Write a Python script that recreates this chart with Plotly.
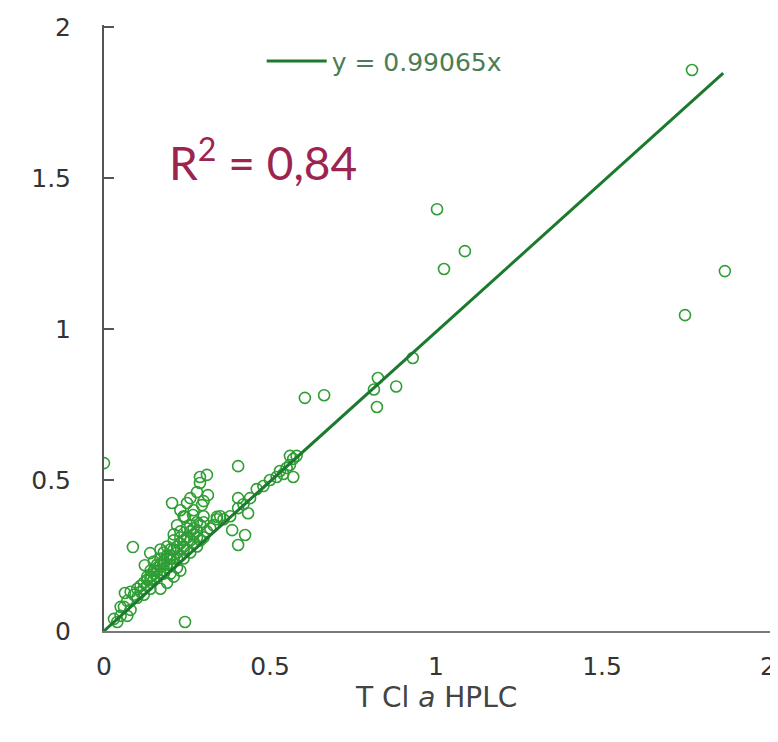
import plotly.graph_objects as go

# data
x_pts = [
    0.03, 0.04, 0.05, 0.05, 0.06, 0.063, 0.07, 0.07, 0.08, 0.08, 0.09, 0.10, 0.10, 0.11, 0.12, 0.12,
    0.123, 0.13, 0.13, 0.139, 0.14, 0.14, 0.15, 0.15, 0.16, 0.16, 0.17, 0.17, 0.17, 0.18, 0.18,
    0.18, 0.19, 0.19, 0.19, 0.20, 0.20, 0.20, 0.21, 0.21, 0.21, 0.22, 0.22, 0.22, 0.23, 0.23,
    0.23, 0.23, 0.24, 0.24, 0.24, 0.25, 0.25, 0.26, 0.26, 0.26, 0.27, 0.27, 0.27, 0.28, 0.28,
    0.28, 0.29, 0.30, 0.30, 0.30, 0.31, 0.32, 0.33, 0.34, 0.35, 0.36,
    0.11, 0.12, 0.13, 0.14, 0.15, 0.16, 0.17, 0.18, 0.19, 0.20, 0.21, 0.22, 0.23, 0.24, 0.25,
    0.26, 0.27, 0.28, 0.29, 0.30, 0.14, 0.16, 0.18, 0.20, 0.22, 0.24, 0.26, 0.28,
    0.15, 0.17, 0.19, 0.21, 0.23, 0.25,
    0.205, 0.25, 0.295, 0.244, 0.268, 0.34, 0.289, 0.31, 0.289, 0.313,
    0.404, 0.404, 0.404, 0.434, 0.386, 0.425, 0.404, 0.38, 0.42, 0.44, 0.46, 0.48, 0.50, 0.52,
    0.53, 0.54, 0.55, 0.56, 0.57, 0.56, 0.58, 0.57,
    0.0, 0.087, 0.244, 0.605, 0.663, 0.813, 0.822, 0.825, 0.88, 0.93,
    1.003, 1.024, 1.087, 1.75, 1.771, 1.87,
]
y_pts = [
    0.04, 0.03, 0.05, 0.08, 0.08, 0.126, 0.10, 0.05, 0.07, 0.13, 0.12, 0.11, 0.14, 0.13, 0.12, 0.16,
    0.218, 0.15, 0.18, 0.258, 0.14, 0.20, 0.17, 0.20, 0.18, 0.22, 0.19, 0.24, 0.14, 0.20, 0.23,
    0.26, 0.21, 0.25, 0.16, 0.19, 0.22, 0.27, 0.24, 0.30, 0.18, 0.21, 0.26, 0.35, 0.25, 0.33,
    0.20, 0.40, 0.24, 0.28, 0.38, 0.27, 0.31, 0.26, 0.35, 0.44, 0.29, 0.32, 0.40, 0.28, 0.36,
    0.46, 0.30, 0.31, 0.38, 0.43, 0.33, 0.34, 0.35, 0.37, 0.38, 0.37,
    0.15, 0.14, 0.17, 0.18, 0.19, 0.21, 0.22, 0.22, 0.24, 0.25, 0.27, 0.28, 0.29, 0.30, 0.31,
    0.33, 0.34, 0.33, 0.35, 0.36, 0.17, 0.20, 0.19, 0.24, 0.24, 0.27, 0.30, 0.31,
    0.23, 0.27, 0.28, 0.32, 0.31, 0.34,
    0.424, 0.424, 0.417, 0.378, 0.384, 0.378, 0.51, 0.517, 0.49, 0.45,
    0.546, 0.44, 0.407, 0.39, 0.334, 0.318, 0.285, 0.38, 0.42, 0.44, 0.47, 0.48, 0.50, 0.51,
    0.53, 0.52, 0.54, 0.55, 0.57, 0.58, 0.58, 0.51,
    0.556, 0.278, 0.03, 0.772, 0.781, 0.80, 0.742, 0.838, 0.81, 0.904,
    1.397, 1.199, 1.258, 1.046, 1.858, 1.192,
]

slope = 0.99065
fit_x = [0, 1.865]
fit_y = [slope * v for v in fit_x]

tick_vals = [0, 0.5, 1, 1.5, 2]
tick_text = ["0", "0.5", "1", "1.5", "2"]

fig = go.Figure()

fig.add_trace(go.Scatter(
    x=x_pts, y=y_pts, mode="markers", showlegend=False,
    marker=dict(symbol="circle-open", size=11, color="#2f9e34", line=dict(width=1.6, color="#2f9e34")),
))

fig.add_trace(go.Scatter(
    x=fit_x, y=fit_y, mode="lines", name="y = 0.99065x",
    line=dict(color="#1c7a2e", width=3),
))

fig.add_annotation(
    x=0.19, y=1.56, xref="x", yref="y", xanchor="left", yanchor="middle",
    text="R<sup>2</sup> = 0,84", showarrow=False,
    font=dict(family="Lato", size=46, color="#9c2550"),
)

# x axis title, placed as an annotation so it sits closer to the tick labels
fig.add_annotation(
    x=1.0, y=-0.11, xref="x", yref="paper", xanchor="center", yanchor="middle",
    text="T Cl <i>a</i> HPLC", showarrow=False,
    font=dict(size=28, color="#444"),
)

# the page has an 8px body margin, so the figure is a bit smaller than the window
fig.update_layout(
    width=770, height=734,
    margin=dict(l=96, r=3, t=17, b=111),
    plot_bgcolor="white", paper_bgcolor="white",
    font=dict(family="DejaVu Sans", size=25, color="#333"),
    legend=dict(
        x=0.235, y=0.94, xanchor="left", yanchor="middle",
        font=dict(size=25, color="#4a7d52"), bgcolor="rgba(0,0,0,0)",
        itemwidth=60,
    ),
    xaxis=dict(
        range=[0, 2.021], tickvals=tick_vals, ticktext=tick_text,
        showline=True, linecolor="#7a7a7a", linewidth=2, automargin=False,
        showgrid=False, zeroline=False, ticks="", ticklabelstandoff=12,
    ),
    yaxis=dict(
        range=[0, 2.007], tickvals=tick_vals, ticktext=tick_text,
        showline=True, linecolor="#555", linewidth=2, automargin=False,
        showgrid=False, zeroline=False,
        ticks="inside", ticklen=10, tickcolor="#555", tickwidth=2,
        ticklabelstandoff=26,
    ),
)

fig.write_html("out.html")
